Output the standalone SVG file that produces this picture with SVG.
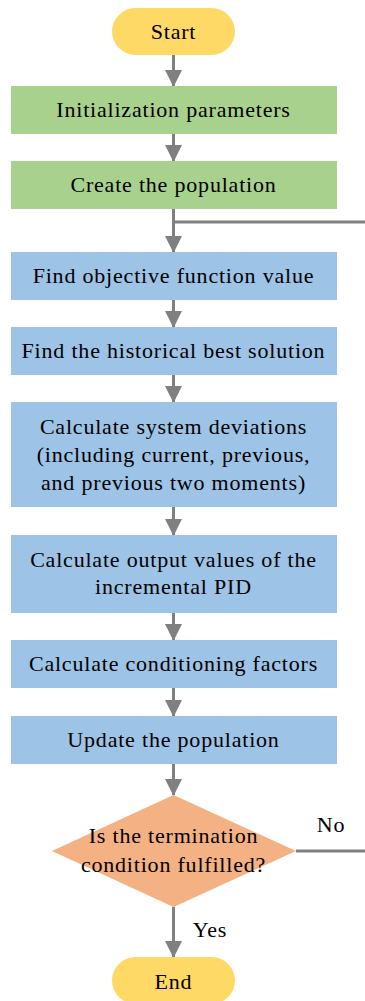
<svg xmlns="http://www.w3.org/2000/svg" width="365" height="1001" viewBox="0 0 365 1001">
<style>
text{font-family:'Liberation Serif','Times New Roman',Times,'DejaVu Serif',serif;font-size:22px;letter-spacing:0.8px;fill:#000;text-anchor:middle}
.term{fill:#FFD966}
.green{fill:#A9D18E}
.blue{fill:#9DC3E6}
.dec{fill:#F4B183}
.ln{stroke:#808080;stroke-width:3;fill:none}
</style>
<defs>
<marker id="ah" markerUnits="userSpaceOnUse" markerWidth="18" markerHeight="17" refX="17" refY="9" orient="auto" viewBox="0 0 18 18">
<path d="M0,0 L18,9 L0,18 Z" fill="#808080"/>
</marker>
</defs>
<g id="connectors">
<path class="ln" d="M173.5,55 V86" marker-end="url(#ah)"/>
<path class="ln" d="M173.5,134 V161" marker-end="url(#ah)"/>
<path class="ln" d="M173.5,209 V252" marker-end="url(#ah)"/>
<path class="ln" d="M173.5,222 H365"/>
<path class="ln" d="M173.5,300 V327" marker-end="url(#ah)"/>
<path class="ln" d="M173.5,375 V402" marker-end="url(#ah)"/>
<path class="ln" d="M173.5,507 V535" marker-end="url(#ah)"/>
<path class="ln" d="M173.5,613 V640" marker-end="url(#ah)"/>
<path class="ln" d="M173.5,688 V716" marker-end="url(#ah)"/>
<path class="ln" d="M173.5,764 V795" marker-end="url(#ah)"/>
<path class="ln" d="M173.5,907 V957" marker-end="url(#ah)"/>
<path class="ln" d="M296,851 H365"/>
<text x="331" y="832">No</text>
<text x="210" y="937">Yes</text>
</g>
<g id="start">
<rect class="term" x="112" y="8" width="123" height="47" rx="23.5"/>
<text x="173.5" y="39">Start</text>
</g>
<g id="init">
<rect class="green" x="11" y="86" width="326" height="48"/>
<text x="173.5" y="117">Initialization parameters</text>
</g>
<g id="create">
<rect class="green" x="11" y="161" width="326" height="48"/>
<text x="173.5" y="192">Create the population</text>
</g>
<g id="objective">
<rect class="blue" x="11" y="252" width="326" height="48"/>
<text x="173.5" y="283">Find objective function value</text>
</g>
<g id="historical">
<rect class="blue" x="11" y="327" width="326" height="48"/>
<text x="173.5" y="358">Find the historical best solution</text>
</g>
<g id="deviations">
<rect class="blue" x="11" y="402" width="326" height="105"/>
<text x="173.5" y="434">Calculate system deviations</text>
<text x="173.5" y="462">(including current, previous,</text>
<text x="173.5" y="490">and previous two moments)</text>
</g>
<g id="output">
<rect class="blue" x="11" y="535" width="326" height="78"/>
<text x="173.5" y="567">Calculate output values of the</text>
<text x="173.5" y="594">incremental PID</text>
</g>
<g id="conditioning">
<rect class="blue" x="11" y="640" width="326" height="48"/>
<text x="173.5" y="671">Calculate conditioning factors</text>
</g>
<g id="update">
<rect class="blue" x="11" y="716" width="326" height="48"/>
<text x="173.5" y="747">Update the population</text>
</g>
<g id="decision">
<polygon class="dec" points="173.5,795 296,851 173.5,907 52,851"/>
<text x="173.5" y="843">Is the termination</text>
<text x="173.5" y="872">condition fulfilled?</text>
</g>
<g id="end">
<rect class="term" x="112" y="957" width="123" height="47" rx="23.5"/>
<text x="173.5" y="989">End</text>
</g>
</svg>
